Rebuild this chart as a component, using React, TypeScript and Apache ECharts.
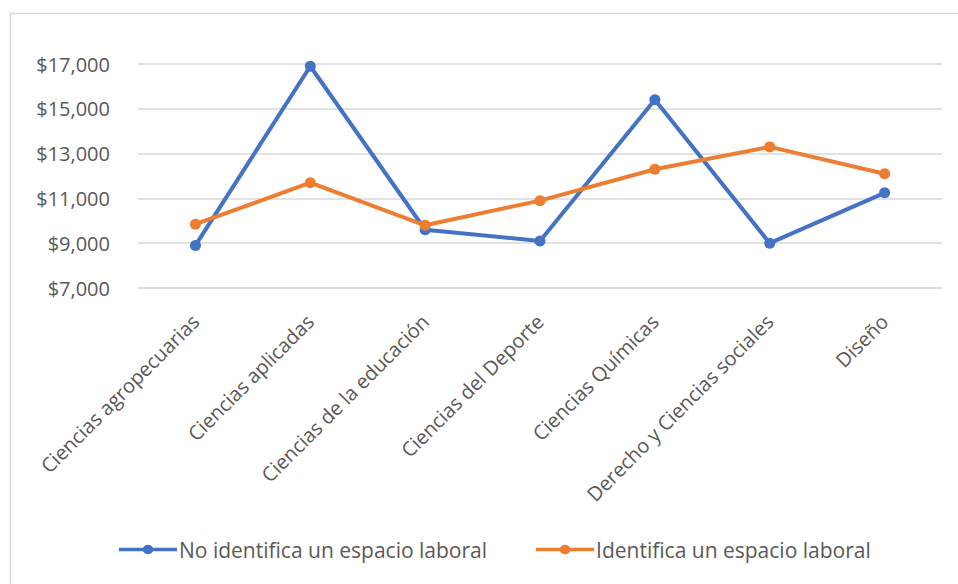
import React, { useEffect, useRef } from "react";
import * as echarts from "echarts";

const categories = [
  "Ciencias agropecuarias",
  "Ciencias aplicadas",
  "Ciencias de la educación",
  "Ciencias del Deporte",
  "Ciencias Químicas",
  "Derecho y Ciencias sociales",
  "Diseño",
];
const seriesNames = ["No identifica un espacio laboral", "Identifica un espacio laboral"];
const noIdentifica = [8900, 16900, 9600, 9100, 15400, 9000, 11250];
const identifica = [9850, 11700, 9800, 10900, 12300, 13300, 12100];
const yMin = 7000;
const yMax = 17000;
const yInterval = 2000;

const FONT = "'Open Sans', 'Noto Sans', sans-serif";

export default function App() {
  const ref = useRef<HTMLDivElement>(null);
  useEffect(() => {
    if (!ref.current) return;
    const chart = echarts.init(ref.current, null, { renderer: "svg" });
    chart.setOption({
      animation: false,
      backgroundColor: "#ffffff",
      textStyle: { fontFamily: FONT },
      graphic: [
        {
          type: "rect",
          shape: { x: 10.5, y: 13.5, width: 1000, height: 700 },
          style: { fill: "none", stroke: "#d9d9d9", lineWidth: 1.5 },
          silent: true,
        },
      ],
      grid: { left: 138, right: 16, top: 64, bottom: 296, containLabel: false },
      legend: {
        top: 534,
        left: 114,
        itemWidth: 58,
        itemHeight: 12,
        itemGap: 49,
        textStyle: { color: "#595959", fontSize: 21, fontFamily: FONT, padding: [0, 0, 0, -3] },
        data: seriesNames.map((n) => ({
          name: n,
          icon: "path://M0,4.2 L24,4.2 A5.8,5.8 0 0 1 34,4.2 L58,4.2 L58,7.8 L34,7.8 A5.8,5.8 0 0 1 24,7.8 L0,7.8 Z",
        })),
      },
      xAxis: {
        type: "category",
        data: categories,
        boundaryGap: true,
        axisLine: { show: true, lineStyle: { color: "#d9d9d9", width: 1.5 } },
        axisTick: { show: false },
        axisLabel: {
          interval: 0,
          rotate: 45,
          color: "#595959",
          fontSize: 20,
          fontFamily: FONT,
          margin: 30,
        },
      },
      yAxis: {
        type: "value",
        min: yMin,
        max: yMax,
        interval: yInterval,
        axisLine: { show: false },
        axisTick: { show: false },
        splitLine: { lineStyle: { color: "#d9d9d9", width: 1.5 } },
        axisLabel: {
          color: "#595959",
          fontSize: 20,
          fontFamily: FONT,
          margin: 28,
          formatter: (v: number) => "$" + v.toLocaleString("en-US"),
        },
      },
      series: [
        {
          name: seriesNames[0],
          type: "line",
          data: noIdentifica,
          color: "#4472C4",
          symbol: "circle",
          symbolSize: 11,
          lineStyle: { width: 4, color: "#4472C4" },
          itemStyle: { color: "#4472C4" },
        },
        {
          name: seriesNames[1],
          type: "line",
          data: identifica,
          color: "#ED7D31",
          symbol: "circle",
          symbolSize: 11,
          lineStyle: { width: 4, color: "#ED7D31" },
          itemStyle: { color: "#ED7D31" },
        },
      ],
    });
    return () => chart.dispose();
  }, []);
  return (
    <div
      ref={ref}
      style={{ position: "fixed", left: 0, top: 0, width: 958, height: 584 }}
    />
  );
}
